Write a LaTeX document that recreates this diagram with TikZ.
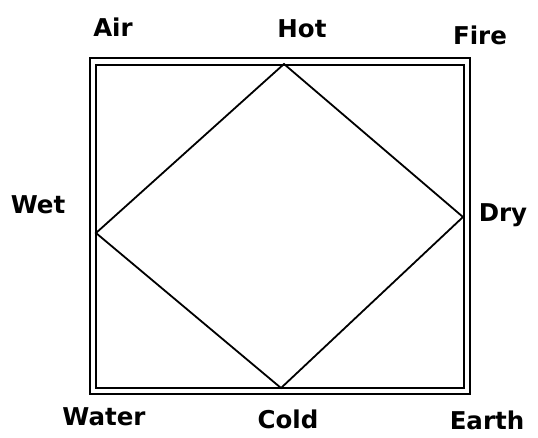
\documentclass[tikz,border=0pt]{standalone}
\usepackage{fontspec}
\setmainfont{DejaVu Sans}
\begin{document}
\begin{tikzpicture}[x=1pt,y=-1pt,
  lbl/.style={font=\fontsize{24.5}{28}\selectfont\bfseries, anchor=base, inner sep=0pt},
  frame/.style={line width=2.4pt, black},
  edge/.style={line width=1.8pt, black}]
\useasboundingbox (0,0) rectangle (538,437);
% double border
\draw[frame] (90,58) rectangle (470,394);
\draw[frame] (96,65) rectangle (464,388);
% diamond vertices
\coordinate (hot) at (284,64);
\coordinate (dry) at (463,217);
\coordinate (cold) at (281,388);
\coordinate (wet) at (96,233);
\draw[edge] (hot) -- (dry) -- (cold) -- (wet) -- cycle;
% labels
\node[lbl] (air) at (113,36) {Air};
\node[lbl] (hotl) at (302,37) {Hot};
\node[lbl] (fire) at (480,44) {Fire};
\node[lbl] (wetl) at (38,213) {Wet};
\node[lbl] (dryl) at (503,221) {Dry};
\node[lbl] (water) at (104,425) {Water};
\node[lbl] (coldl) at (288,428) {Cold};
\node[lbl] (earth) at (487,429) {Earth};
\end{tikzpicture}
\end{document}
